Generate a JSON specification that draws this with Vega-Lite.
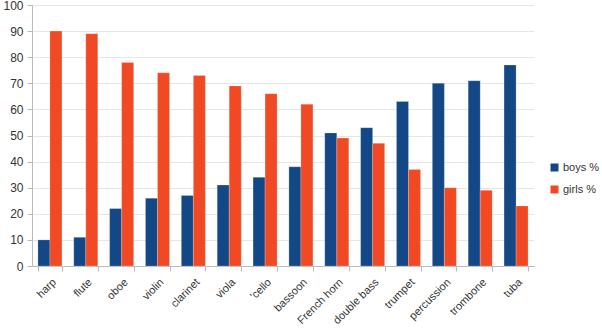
{
  "$schema": "https://vega.github.io/schema/vega-lite/v6.json",
  "width": 502,
  "height": 261,
  "autosize": {"type": "none"},
  "padding": {"left": 32, "top": 5, "right": 68, "bottom": 62},
  "background": "white",
  "data": {"values": [
    {"instrument": "harp", "group": "boys %", "value": 10},
    {"instrument": "harp", "group": "girls %", "value": 90},
    {"instrument": "flute", "group": "boys %", "value": 11},
    {"instrument": "flute", "group": "girls %", "value": 89},
    {"instrument": "oboe", "group": "boys %", "value": 22},
    {"instrument": "oboe", "group": "girls %", "value": 78},
    {"instrument": "violin", "group": "boys %", "value": 26},
    {"instrument": "violin", "group": "girls %", "value": 74},
    {"instrument": "clarinet", "group": "boys %", "value": 27},
    {"instrument": "clarinet", "group": "girls %", "value": 73},
    {"instrument": "viola", "group": "boys %", "value": 31},
    {"instrument": "viola", "group": "girls %", "value": 69},
    {"instrument": "'cello", "group": "boys %", "value": 34},
    {"instrument": "'cello", "group": "girls %", "value": 66},
    {"instrument": "bassoon", "group": "boys %", "value": 38},
    {"instrument": "bassoon", "group": "girls %", "value": 62},
    {"instrument": "French horn", "group": "boys %", "value": 51},
    {"instrument": "French horn", "group": "girls %", "value": 49},
    {"instrument": "double bass", "group": "boys %", "value": 53},
    {"instrument": "double bass", "group": "girls %", "value": 47},
    {"instrument": "trumpet", "group": "boys %", "value": 63},
    {"instrument": "trumpet", "group": "girls %", "value": 37},
    {"instrument": "percussion", "group": "boys %", "value": 70},
    {"instrument": "percussion", "group": "girls %", "value": 30},
    {"instrument": "trombone", "group": "boys %", "value": 71},
    {"instrument": "trombone", "group": "girls %", "value": 29},
    {"instrument": "tuba", "group": "boys %", "value": 77},
    {"instrument": "tuba", "group": "girls %", "value": 23}
  ]},
  "mark": {"type": "bar", "stroke": "#ffffff", "strokeOpacity": 0.35, "strokeWidth": 0.6},
  "encoding": {
    "x": {
      "field": "instrument",
      "type": "nominal",
      "sort": null,
      "scale": {"paddingInner": 0.33, "paddingOuter": 0.165},
      "axis": {
        "title": null,
        "labelAngle": -45,
        "labelAlign": "right",
        "labelBaseline": "top",
        "labelFont": "Liberation Sans",
        "labelFontSize": 11,
        "labelColor": "#333333",
        "labelPadding": 5,
        "labelOverlap": false,
        "domainColor": "#bbbbbb",
        "tickColor": "#bbbbbb",
        "tickSize": 5,
        "tickBand": "extent",
        "grid": false
      }
    },
    "xOffset": {"field": "group", "type": "nominal", "scale": {"paddingInner": 0, "paddingOuter": 0}},
    "y": {
      "field": "value",
      "type": "quantitative",
      "scale": {"domain": [0, 100], "nice": false},
      "axis": {
        "title": null,
        "values": [0, 10, 20, 30, 40, 50, 60, 70, 80, 90, 100],
        "labelFont": "Liberation Sans",
        "labelFontSize": 12,
        "labelColor": "#333333",
        "domainColor": "#bbbbbb",
        "tickColor": "#bbbbbb",
        "tickSize": 5,
        "labelPadding": 4,
        "gridColor": "#e6e6e6",
        "gridWidth": 1
      }
    },
    "color": {
      "field": "group",
      "type": "nominal",
      "scale": {"domain": ["boys %", "girls %"], "range": ["#134785", "#f04924"]},
      "legend": {
        "title": null,
        "orient": "none",
        "legendX": 517,
        "legendY": 157,
        "symbolType": "square",
        "symbolSize": 64,
        "symbolStrokeWidth": 0,
        "rowPadding": 10,
        "labelFont": "Liberation Sans",
        "labelFontSize": 11,
        "labelColor": "#333333",
        "labelOffset": 3
      }
    }
  },
  "config": {"view": {"stroke": null}}
}
